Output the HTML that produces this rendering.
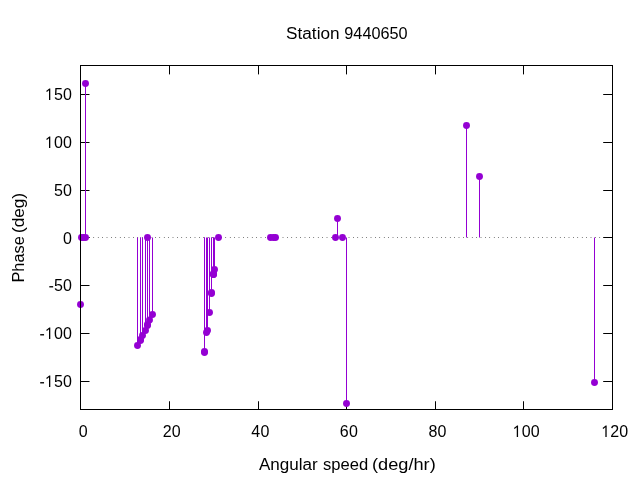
<!DOCTYPE html>
<html><head><meta charset="utf-8"><title>Station 9440650</title>
<style>html,body{margin:0;padding:0;background:#fff;}body{width:640px;height:480px;overflow:hidden;}svg{display:block;will-change:transform;}text{font-family:"Liberation Sans",sans-serif;font-size:16px;fill:#000;}</style>
</head><body>
<svg width="640" height="480" viewBox="0 0 640 480">
<rect x="0" y="0" width="640" height="480" fill="#ffffff"/>
<g stroke="#000" stroke-width="1" fill="none" stroke-linecap="butt">
<path d="M80.5,409.5V401.25M80.5,65.5V74.4"/>
<path d="M169.5,409.5V401.25M169.5,65.5V74.4"/>
<path d="M258.5,409.5V401.25M258.5,65.5V74.4"/>
<path d="M346.5,409.5V401.25M346.5,65.5V74.4"/>
<path d="M435.5,409.5V401.25M435.5,65.5V74.4"/>
<path d="M523.5,409.5V401.25M523.5,65.5V74.4"/>
<path d="M612.5,409.5V401.25M612.5,65.5V74.4"/>
<path d="M80.5,94.5H89.5M612.5,94.5H603.2"/>
<path d="M80.5,142.5H89.5M612.5,142.5H603.2"/>
<path d="M80.5,190.5H89.5M612.5,190.5H603.2"/>
<path d="M80.5,237.5H89.5M612.5,237.5H603.2"/>
<path d="M80.5,285.5H89.5M612.5,285.5H603.2"/>
<path d="M80.5,333.5H89.5M612.5,333.5H603.2"/>
<path d="M80.5,381.5H89.5M612.5,381.5H603.2"/>
</g>
<line x1="80.35" y1="237.5" x2="612.5" y2="237.5" stroke="#000" stroke-width="1" stroke-dasharray="0.5 3.9"/>
<g stroke="#9400d3" stroke-width="1" fill="none">
<line x1="80.5" y1="237.5" x2="80.5" y2="304.5"/>
<line x1="85.5" y1="237.5" x2="85.5" y2="83.5"/>
<line x1="137.5" y1="237.5" x2="137.5" y2="345.5"/>
<line x1="140.5" y1="237.5" x2="140.5" y2="340.5"/>
<line x1="140.5" y1="237.5" x2="140.5" y2="339.5"/>
<line x1="142.5" y1="237.5" x2="142.5" y2="335.5"/>
<line x1="145.5" y1="237.5" x2="145.5" y2="330.5"/>
<line x1="147.5" y1="237.5" x2="147.5" y2="325.5"/>
<line x1="147.5" y1="237.5" x2="147.5" y2="324.5"/>
<line x1="149.5" y1="237.5" x2="149.5" y2="320.0"/>
<line x1="152.5" y1="237.5" x2="152.5" y2="314.5"/>
<line x1="204.5" y1="237.5" x2="204.5" y2="351.5"/>
<line x1="204.5" y1="237.5" x2="204.5" y2="352.5"/>
<line x1="206.5" y1="237.5" x2="206.5" y2="332.5"/>
<line x1="207.5" y1="237.5" x2="207.5" y2="330.5"/>
<line x1="209.5" y1="237.5" x2="209.5" y2="312.5"/>
<line x1="211.5" y1="237.5" x2="211.5" y2="292.5"/>
<line x1="211.5" y1="237.5" x2="211.5" y2="293.5"/>
<line x1="213.5" y1="237.5" x2="213.5" y2="274.5"/>
<line x1="213.5" y1="237.5" x2="213.5" y2="274.5"/>
<line x1="213.5" y1="237.5" x2="213.5" y2="273.5"/>
<line x1="214.5" y1="237.5" x2="214.5" y2="269.5"/>
<line x1="337.5" y1="237.5" x2="337.5" y2="218.5"/>
<line x1="346.5" y1="237.5" x2="346.5" y2="403.5"/>
<line x1="466.5" y1="237.5" x2="466.5" y2="125.5"/>
<line x1="479.5" y1="237.5" x2="479.5" y2="176.5"/>
<line x1="594.5" y1="237.5" x2="594.5" y2="382.5"/>
</g>
<g fill="#9400d3" stroke="none">
<circle cx="80.5" cy="304.5" r="3.45"/>
<circle cx="81.5" cy="237.5" r="3.45"/>
<circle cx="83.5" cy="237.5" r="3.45"/>
<circle cx="85.5" cy="237.5" r="3.45"/>
<circle cx="85.5" cy="83.5" r="3.45"/>
<circle cx="137.5" cy="345.5" r="3.45"/>
<circle cx="140.5" cy="340.5" r="3.45"/>
<circle cx="140.5" cy="339.5" r="3.45"/>
<circle cx="142.5" cy="335.5" r="3.45"/>
<circle cx="145.5" cy="330.5" r="3.45"/>
<circle cx="147.5" cy="325.5" r="3.45"/>
<circle cx="147.5" cy="237.5" r="3.45"/>
<circle cx="147.5" cy="324.5" r="3.45"/>
<circle cx="149.5" cy="320.0" r="3.45"/>
<circle cx="152.5" cy="314.5" r="3.45"/>
<circle cx="204.5" cy="351.5" r="3.45"/>
<circle cx="204.5" cy="352.5" r="3.45"/>
<circle cx="206.5" cy="332.5" r="3.45"/>
<circle cx="207.5" cy="330.5" r="3.45"/>
<circle cx="209.5" cy="312.5" r="3.45"/>
<circle cx="211.5" cy="292.5" r="3.45"/>
<circle cx="211.5" cy="293.5" r="3.45"/>
<circle cx="213.5" cy="274.5" r="3.45"/>
<circle cx="213.5" cy="274.5" r="3.45"/>
<circle cx="213.5" cy="273.5" r="3.45"/>
<circle cx="214.5" cy="269.5" r="3.45"/>
<circle cx="218.5" cy="237.5" r="3.45"/>
<circle cx="270.5" cy="237.5" r="3.45"/>
<circle cx="273.5" cy="237.5" r="3.45"/>
<circle cx="275.5" cy="237.5" r="3.45"/>
<circle cx="335.5" cy="237.5" r="3.45"/>
<circle cx="337.5" cy="218.5" r="3.45"/>
<circle cx="342.5" cy="237.5" r="3.45"/>
<circle cx="346.5" cy="403.5" r="3.45"/>
<circle cx="466.5" cy="125.5" r="3.45"/>
<circle cx="479.5" cy="176.5" r="3.45"/>
<circle cx="594.5" cy="382.5" r="3.45"/>
</g>
<rect x="80.5" y="65.5" width="532.0" height="344.0" fill="none" stroke="#000" stroke-width="1"/>
<path d="M5.6,0H4.3V-9.85L2.2,-8.1L1.5,-9.1L4.65,-11.42H5.6Z" transform="translate(44.70,100.00)" fill="#000"/>
<text x="53.90" y="100.00">5</text>
<text x="63.00" y="100.00">0</text>
<path d="M5.6,0H4.3V-9.85L2.2,-8.1L1.5,-9.1L4.65,-11.42H5.6Z" transform="translate(44.70,148.00)" fill="#000"/>
<text x="53.90" y="148.00">0</text>
<text x="63.00" y="148.00">0</text>
<text x="53.90" y="196.00">5</text>
<text x="63.00" y="196.00">0</text>
<text x="63.00" y="244.00">0</text>
<rect x="49.30" y="286.10" width="3.85" height="1.35" fill="#000"/>
<text x="53.90" y="291.00">5</text>
<text x="63.00" y="291.00">0</text>
<rect x="40.20" y="334.10" width="3.85" height="1.35" fill="#000"/>
<path d="M5.6,0H4.3V-9.85L2.2,-8.1L1.5,-9.1L4.65,-11.42H5.6Z" transform="translate(44.70,339.00)" fill="#000"/>
<text x="53.90" y="339.00">0</text>
<text x="63.00" y="339.00">0</text>
<rect x="40.20" y="382.10" width="3.85" height="1.35" fill="#000"/>
<path d="M5.6,0H4.3V-9.85L2.2,-8.1L1.5,-9.1L4.65,-11.42H5.6Z" transform="translate(44.70,387.00)" fill="#000"/>
<text x="53.90" y="387.00">5</text>
<text x="63.00" y="387.00">0</text>
<text x="78.66" y="437.00">0</text>
<text x="162.71" y="437.00">2</text>
<text x="171.81" y="437.00">0</text>
<text x="251.36" y="437.00">4</text>
<text x="260.41" y="437.00">0</text>
<text x="339.86" y="437.00">6</text>
<text x="349.01" y="437.00">0</text>
<text x="428.51" y="437.00">8</text>
<text x="437.61" y="437.00">0</text>
<path d="M5.6,0H4.3V-9.85L2.2,-8.1L1.5,-9.1L4.65,-11.42H5.6Z" transform="translate(512.46,437.00)" fill="#000"/>
<text x="521.66" y="437.00">0</text>
<text x="530.76" y="437.00">0</text>
<path d="M5.6,0H4.3V-9.85L2.2,-8.1L1.5,-9.1L4.65,-11.42H5.6Z" transform="translate(601.06,437.00)" fill="#000"/>
<text x="610.26" y="437.00">2</text>
<text x="619.36" y="437.00">0</text>
<text x="286.09" y="39" textLength="53.48" lengthAdjust="spacingAndGlyphs">Station</text>
<text x="344.34" y="39" textLength="63.21" lengthAdjust="spacingAndGlyphs">9440650</text>
<text x="258.90" y="470" textLength="58.76" lengthAdjust="spacingAndGlyphs">Angular</text>
<text x="322.98" y="470" textLength="45.19" lengthAdjust="spacingAndGlyphs">speed</text>
<text x="372.06" y="470" textLength="63.70" lengthAdjust="spacingAndGlyphs">(deg/hr)</text>
<text transform="translate(24.3,282.58) rotate(-90)" textLength="46.41" lengthAdjust="spacingAndGlyphs">Phase</text>
<text transform="translate(24.3,233.08) rotate(-90)" textLength="40.19" lengthAdjust="spacingAndGlyphs">(deg)</text>
</svg>
</body></html>
